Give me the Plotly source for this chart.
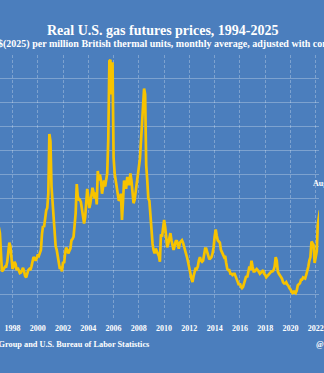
import pandas as pd
import plotly.graph_objects as go

# Monthly average Henry Hub futures price, real 2025 dollars per MMBtu
prices_1990s = [
    5.4, 5.0, 4.5, 4.3, 4.1, 4.3, 4.3, 3.9, 3.5, 3.7, 3.7, 3.7,   # 1994
    3.2, 3.2, 3.4, 3.4, 3.6, 3.6, 3.0, 3.2, 3.4, 3.6, 4.0, 4.6,   # 1995
    5.1, 5.5, 5.1, 4.7, 4.7, 5.3, 5.3, 4.5, 3.9, 4.3, 5.7, 7.6,   # 1996
    7.1, 4.6, 3.9, 4.0, 4.2, 4.3, 4.3, 4.7, 5.5, 6.3, 6.0, 4.8,   # 1997
    4.1, 4.3, 4.7, 4.5, 4.0, 4.2, 4.0, 3.75, 3.8, 4.1, 4.2, 3.9,  # 1998
    3.5, 3.4, 3.7, 4.0, 4.1, 4.0, 4.3, 4.7, 5.1, 5.0, 4.8, 5.0,   # 1999
]
prices_2000s = [
    5.3, 5.2, 5.5, 5.7, 7.0, 7.7, 7.6, 8.6, 9.0, 9.2, 10.4, 15.4,      # 2000
    14.8, 11.0, 9.8, 8.7, 7.0, 6.0, 5.7, 5.2, 4.6, 4.1, 4.3, 3.9,      # 2001
    4.7, 4.6, 5.4, 5.9, 5.7, 5.4, 5.6, 5.8, 6.5, 6.6, 6.8, 7.6,        # 2002
    8.8, 11.2, 10.2, 9.9, 9.9, 9.7, 9.0, 8.4, 7.9, 8.4, 9.5, 10.8,     # 2003
    10.1, 9.2, 9.6, 10.4, 10.9, 10.5, 10.0, 10.5, 9.5, 12.3, 11.5, 12.0,  # 2004
    11.5, 10.4, 10.8, 11.5, 11.0, 11.8, 12.1, 15.0, 21.5, 21.6, 18.7, 21.4,  # 2005
    13.4, 12.1, 11.5, 10.7, 10.1, 9.8, 10.0, 10.4, 8.2, 10.4, 11.5, 10.9,  # 2006
    10.9, 11.8, 11.2, 11.2, 12.1, 11.5, 10.1, 9.6, 9.9, 10.7, 11.0, 11.8,  # 2007
    12.6, 13.3, 14.8, 15.6, 17.6, 19.2, 18.7, 12.8, 11.5, 10.0, 9.8, 8.3,  # 2008
    7.3, 6.2, 5.7, 5.4, 5.8, 5.6, 5.4, 5.2, 4.7, 7.0, 6.8, 7.6,        # 2009
]
prices_2010s = [
    8.2, 7.6, 6.6, 5.9, 6.2, 6.8, 7.1, 6.5, 5.9, 5.7, 6.0, 6.4,   # 2010
    6.5, 6.0, 5.8, 6.3, 6.4, 6.5, 6.3, 6.0, 5.7, 5.3, 5.0, 4.6,   # 2011
    4.0, 3.7, 3.3, 3.0, 3.5, 3.8, 4.2, 4.1, 4.3, 4.8, 5.1, 4.8,   # 2012
    4.7, 4.8, 5.5, 5.8, 5.8, 5.5, 5.1, 4.9, 5.0, 5.1, 5.4, 5.9,   # 2013
    6.8, 7.4, 6.9, 6.5, 6.4, 6.3, 5.7, 5.4, 5.3, 5.1, 5.2, 4.6,   # 2014
    4.1, 4.0, 4.0, 3.7, 3.7, 3.6, 3.7, 3.7, 3.5, 3.3, 3.0, 2.75,  # 2015
    2.9, 2.6, 2.5, 2.6, 2.9, 3.2, 3.5, 3.4, 3.9, 4.3, 4.0, 4.8,   # 2016
    4.3, 3.9, 3.9, 4.0, 4.1, 4.0, 3.8, 3.7, 3.8, 3.9, 4.0, 3.7,   # 2017
    3.6, 3.4, 3.5, 3.6, 3.7, 3.8, 3.9, 3.9, 4.0, 4.3, 5.1, 4.8,   # 2018
    3.9, 3.7, 3.6, 3.4, 3.3, 3.0, 2.9, 2.9, 3.0, 2.8, 2.7, 2.5,   # 2019
]
prices_2020s = [
    2.4, 2.2, 2.1, 2.2, 2.2, 2.1, 2.3, 2.75, 2.8, 2.9, 3.2, 3.2,  # 2020
    3.4, 3.3, 3.3, 3.6, 3.9, 4.3, 4.8, 5.1, 6.4, 6.2, 6.1, 4.6,   # 2021
    5.0, 5.6, 7.8, 8.6, 9.0, 8.5, 8.1, 10.3, 8.8, 6.2, 6.5, 6.3,  # 2022
    3.9, 2.7, 2.8, 2.4, 2.5, 2.6, 2.8, 2.8, 2.9, 3.2, 3.0, 2.6,   # 2023
    3.0, 1.8, 1.8, 1.8, 2.4, 2.7, 2.3, 2.1, 2.4, 2.5, 2.5, 3.3,   # 2024
    3.9, 4.0, 4.2, 3.5, 3.4, 3.6, 3.3,                            # 2025
]
first_month = "1994-01-01"

title_text = "Real U.S. gas futures prices, 1994-2025"
subtitle_text = ("$(2025) per million British thermal units, monthly average, "
                 "adjusted with consumer prices")
source_text = "Source: CME Group and U.S. Bureau of Labor Statistics"
peak_note = "Aug 2022"

prices = prices_1990s + prices_2000s + prices_2010s + prices_2020s
months = pd.date_range(first_month, periods=len(prices), freq="MS")

BG = "#4b7ebd"
GRID = "rgba(255,255,255,0.28)"
GOLD = "#f7c300"
SERIF = "Liberation Serif, Times New Roman, serif"
W, H = 324, 373
TOP, BOTTOM = 55, 318

fig = go.Figure(go.Scatter(
    x=months, y=prices, mode="lines",
    line=dict(color=GOLD, width=2.7),
    hoverinfo="skip",
))


def px_x(p):
    return p / W


def px_y(p):
    return (BOTTOM - p) / (BOTTOM - TOP)


fig.update_layout(
    width=W, height=H,
    margin=dict(l=0, r=0, t=TOP, b=H - BOTTOM, pad=0),
    paper_bgcolor=BG, plot_bgcolor=BG,
    showlegend=False,
    font=dict(family=SERIF, color="white"),
    xaxis=dict(
        range=["1997-01-04", "2022-04-06"],
        tick0="1998-01-01", dtick="M24", tickformat="%Y",
        showgrid=True, gridcolor=GRID, griddash="3px,2px", gridwidth=1,
        zeroline=False, showline=False, ticks="",
        ticklabeloverflow="allow", ticklabelstandoff=4,
        tickfont=dict(family=SERIF, size=8, color="white", weight="bold"),
    ),
    yaxis=dict(
        range=[0, 22], dtick=2,
        showgrid=True, gridcolor=GRID, gridwidth=1,
        zeroline=False, showline=False, showticklabels=False, ticks="",
    ),
    annotations=[
        dict(text=f"<b>{title_text}</b>", xref="paper", yref="paper",
             x=px_x(165.5), y=px_y(30.5), xanchor="center", yanchor="middle",
             showarrow=False, font=dict(family=SERIF, size=14, color="white")),
        dict(text=f"<b>{subtitle_text}</b>", xref="paper", yref="paper",
             x=px_x(-4), y=px_y(44), xanchor="left", yanchor="middle",
             showarrow=False, font=dict(family=SERIF, size=10, color="white")),
        dict(text=f"<b>{source_text}</b>", xref="paper", yref="paper",
             x=px_x(154), y=px_y(344), xanchor="right", yanchor="middle",
             showarrow=False, font=dict(family=SERIF, size=8.3, color="white")),
        dict(text="<b>@</b>", xref="paper", yref="paper",
             x=px_x(319), y=px_y(344), xanchor="left", yanchor="middle",
             showarrow=False, font=dict(family=SERIF, size=8.3, color="white")),
        dict(text=f"<b>{peak_note}</b>", xref="paper", yref="paper",
             x=px_x(316), y=px_y(183), xanchor="left", yanchor="middle",
             showarrow=False, font=dict(family=SERIF, size=8, color="white")),
    ],
)

fig.write_html("out.html")
